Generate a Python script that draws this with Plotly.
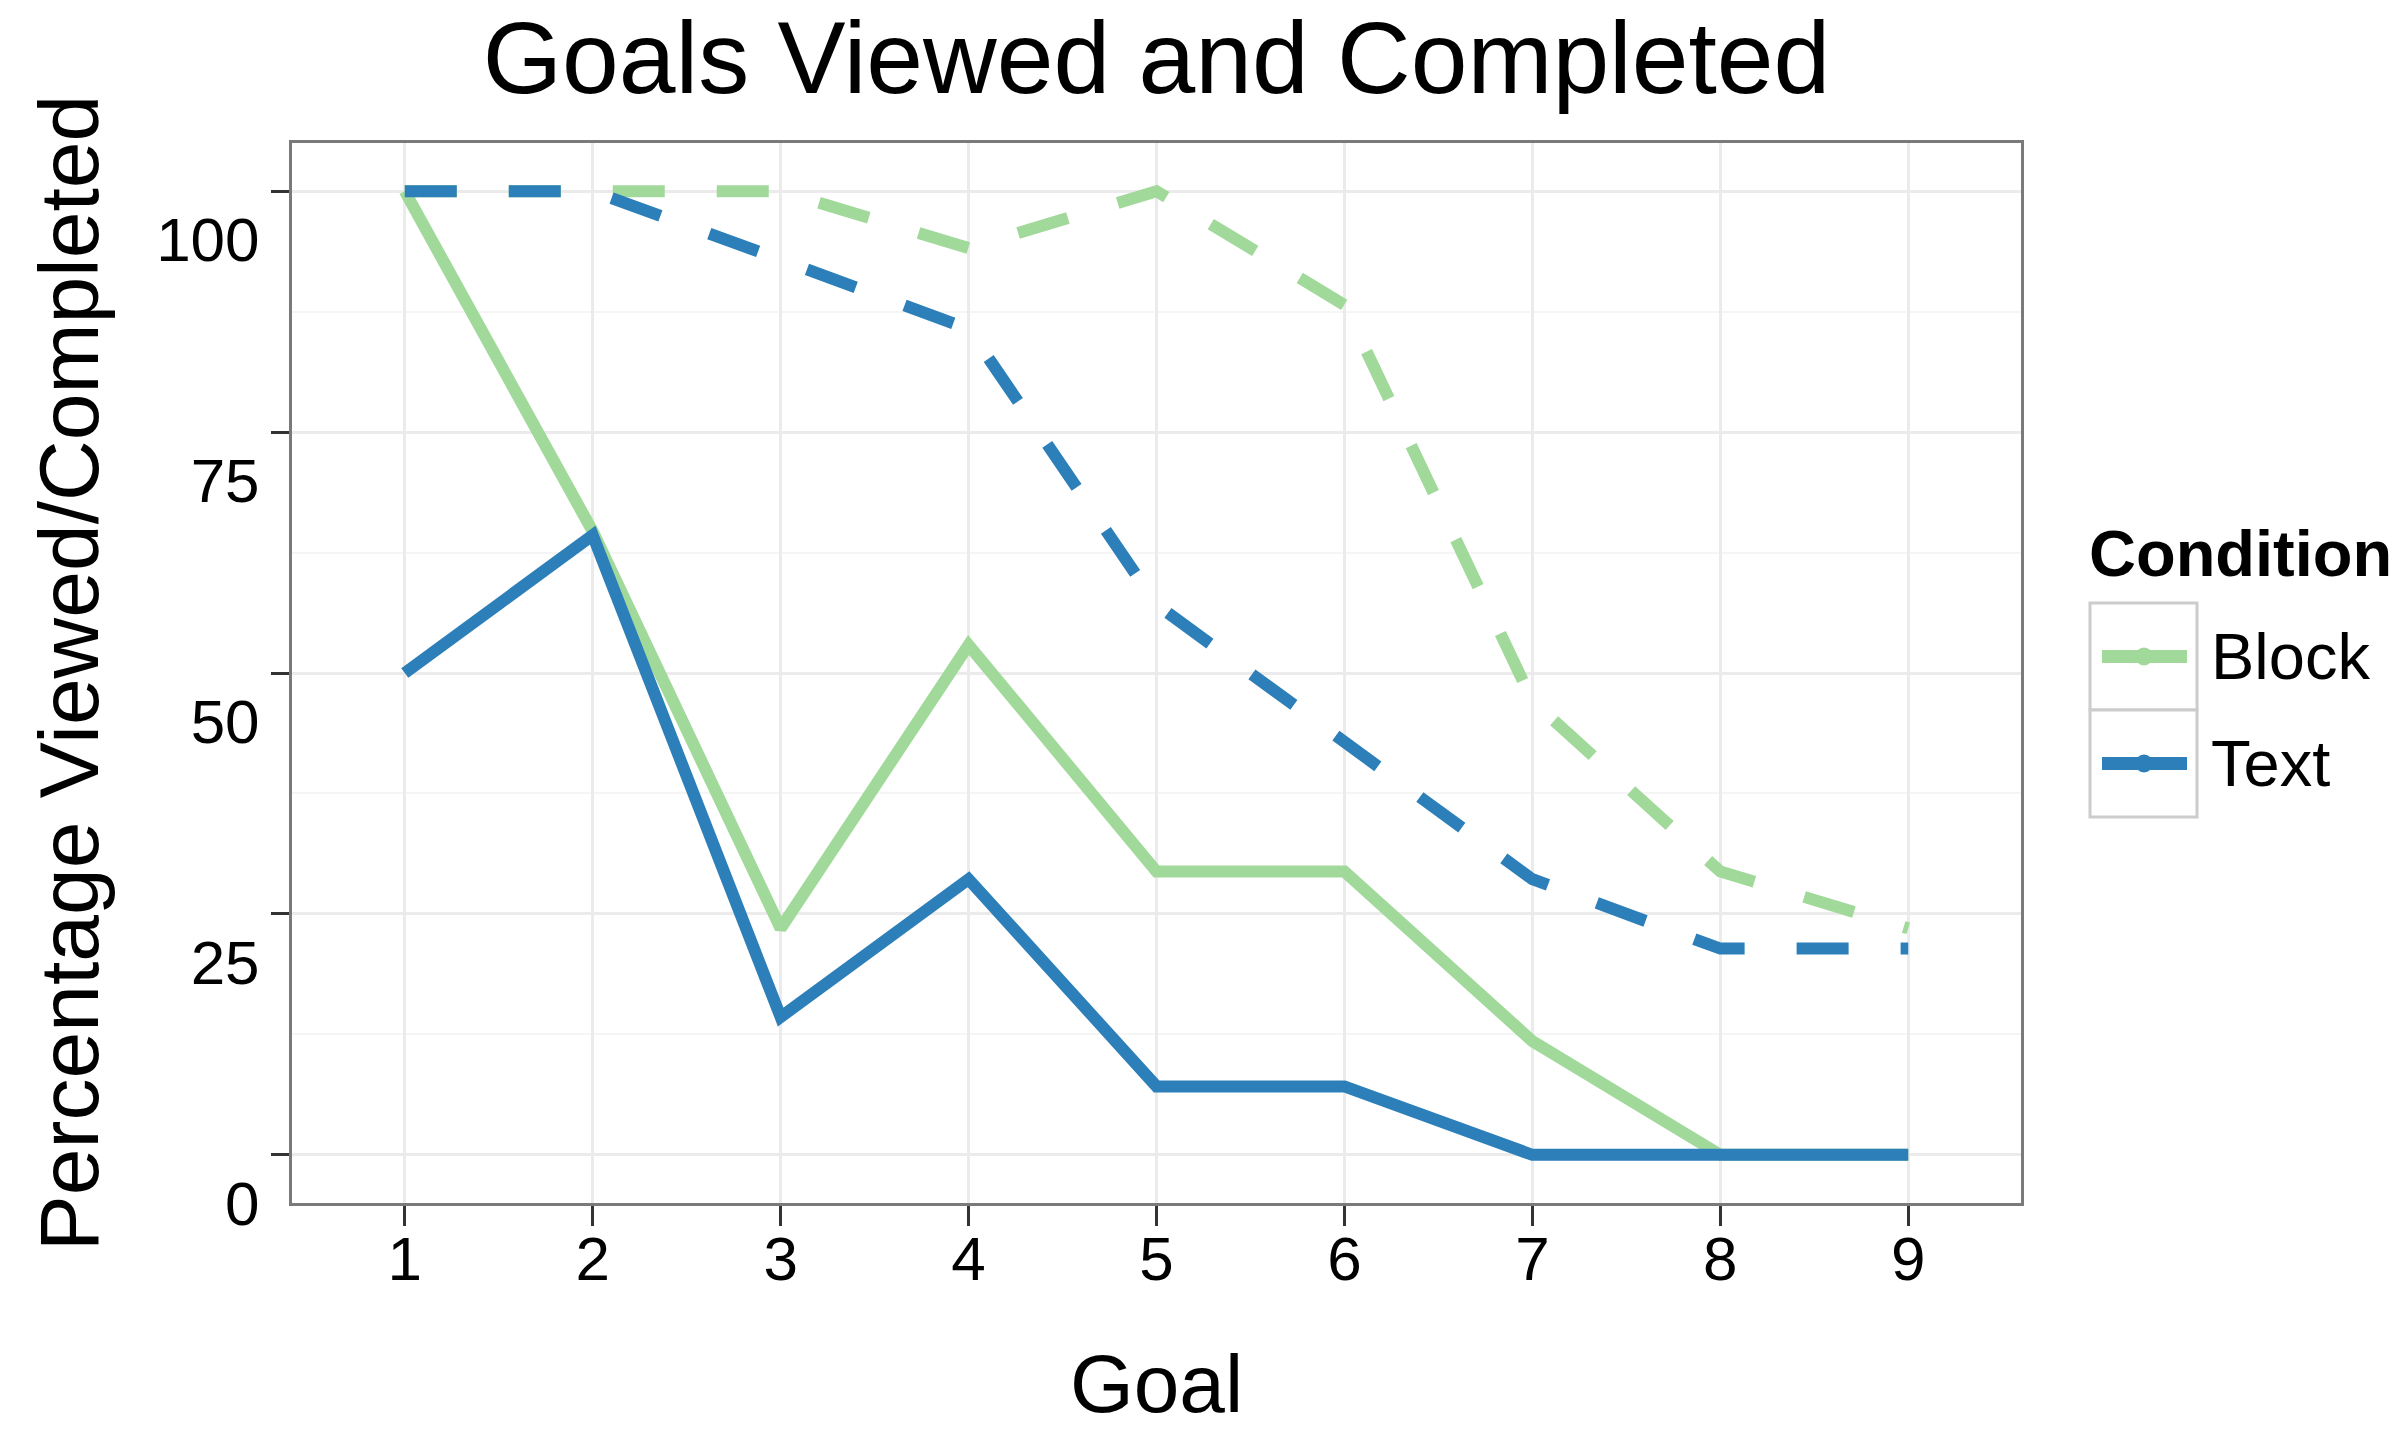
import plotly.graph_objects as go

goals = [1, 2, 3, 4, 5, 6, 7, 8, 9]
conditions = ["Block", "Text"]
completed_block = [100, 64.7, 23.5, 52.9, 29.4, 29.4, 11.8, 0, 0]
completed_text = [50, 64.3, 14.3, 28.6, 7.1, 7.1, 0, 0, 0]
viewed_block = [100, 100, 100, 94.1, 100, 88.2, 47.1, 29.4, 23.5]
viewed_text = [100, 100, 92.9, 85.7, 57.1, 42.9, 28.6, 21.4, 21.4]
y_ticks = [0, 25, 50, 75, 100]

GREEN = "#a1d99b"
BLUE = "#2c7fb8"
FONT = "Liberation Sans, Arial, sans-serif"
LW = 12
DASH = "52px,52px"

fig = go.Figure()
fig.add_trace(go.Scatter(x=goals, y=completed_block, mode="lines", name="Block",
                         line=dict(color=GREEN, width=LW), showlegend=False))
fig.add_trace(go.Scatter(x=goals, y=completed_text, mode="lines", name="Text",
                         line=dict(color=BLUE, width=LW), showlegend=False))
fig.add_trace(go.Scatter(x=goals, y=viewed_block, mode="lines", name="Block viewed",
                         line=dict(color=GREEN, width=LW, dash=DASH), showlegend=False))
fig.add_trace(go.Scatter(x=goals, y=viewed_text, mode="lines", name="Text viewed",
                         line=dict(color=BLUE, width=LW, dash=DASH), showlegend=False))

W, H = 2407, 1429
L, R, T, B = 292, 2021, 143, 1203

fig.update_layout(
    width=W, height=H,
    margin=dict(l=L, r=W - R, t=T, b=H - B, autoexpand=False),
    paper_bgcolor="white", plot_bgcolor="white",
    font=dict(family=FONT, color="black"),
    title=dict(text="Goals Viewed and Completed", font=dict(size=102, family=FONT),
               x=0.5, xref="paper", xanchor="center",
               y=1 - 57 / H, yref="container", yanchor="middle"),
)

fig.update_xaxes(
    range=[0.4, 9.6], tickvals=goals, ticktext=[str(g) for g in goals],
    tickfont=dict(size=62, family=FONT, color="black"),
    ticks="outside", ticklen=20, tickwidth=3, tickcolor="#333333",
    ticklabelstandoff=-20,
    showgrid=True, gridcolor="#ebebeb", gridwidth=3,
    showline=True, linecolor="#7a7a7a", linewidth=3, mirror=True,
    zeroline=False, automargin=False,
    title=dict(text="Goal", font=dict(size=82, family=FONT), standoff=88),
)
fig.update_yaxes(
    range=[-5, 105], tickvals=y_ticks, ticktext=[str(v) for v in y_ticks],
    tickfont=dict(size=62, family=FONT, color="black"),
    ticks="outside", ticklen=18, tickwidth=3, tickcolor="#333333",
    ticklabelshift=48, ticklabelstandoff=-1,
    showgrid=True, gridcolor="#ebebeb", gridwidth=3,
    minor=dict(dtick=12.5, tick0=12.5, showgrid=True, gridcolor="#f5f5f5", gridwidth=2, ticks=""),
    showline=True, linecolor="#7a7a7a", linewidth=3, mirror=True,
    zeroline=False, automargin=False,
    title=dict(text="Percentage Viewed/Completed", font=dict(size=84, family=FONT), standoff=30),
)

# Manual legend (ggplot-style keys with boxes), positions in pixels -> paper coords
def paper_x(x):
    return (x - L) / (R - L)

def paper_y(y):
    return (B - y) / (B - T)

fig.add_annotation(text="<b>Condition</b>", x=paper_x(2087), y=paper_y(553), xref="paper", yref="paper",
                   xanchor="left", yanchor="middle", showarrow=False,
                   font=dict(size=65, family=FONT, color="black"))

key_rows = [(603, 710, GREEN, "Block"), (710, 817, BLUE, "Text")]
for top, bot, col, lab in key_rows:
    fig.add_shape(type="rect", xref="paper", yref="paper",
                  x0=paper_x(2090), x1=paper_x(2197), y0=paper_y(bot), y1=paper_y(top),
                  line=dict(color="#cccccc", width=3), fillcolor="white")
    cy = (top + bot) / 2
    fig.add_shape(type="line", xref="paper", yref="paper",
                  x0=paper_x(2102), x1=paper_x(2187), y0=paper_y(cy), y1=paper_y(cy),
                  line=dict(color=col, width=13))
    fig.add_shape(type="circle", xref="paper", yref="paper",
                  x0=paper_x(2144 - 9), x1=paper_x(2144 + 9), y0=paper_y(cy + 9), y1=paper_y(cy - 9),
                  line=dict(color=col, width=0), fillcolor=col)
    fig.add_annotation(text=lab, x=paper_x(2209), y=paper_y(cy), xref="paper", yref="paper",
                       xanchor="left", yanchor="middle", showarrow=False,
                       font=dict(size=65, family=FONT, color="black"))

fig.write_html("out.html", config={"displayModeBar": False},
               post_script="document.body.style.margin='0';document.body.style.overflow='hidden';")
